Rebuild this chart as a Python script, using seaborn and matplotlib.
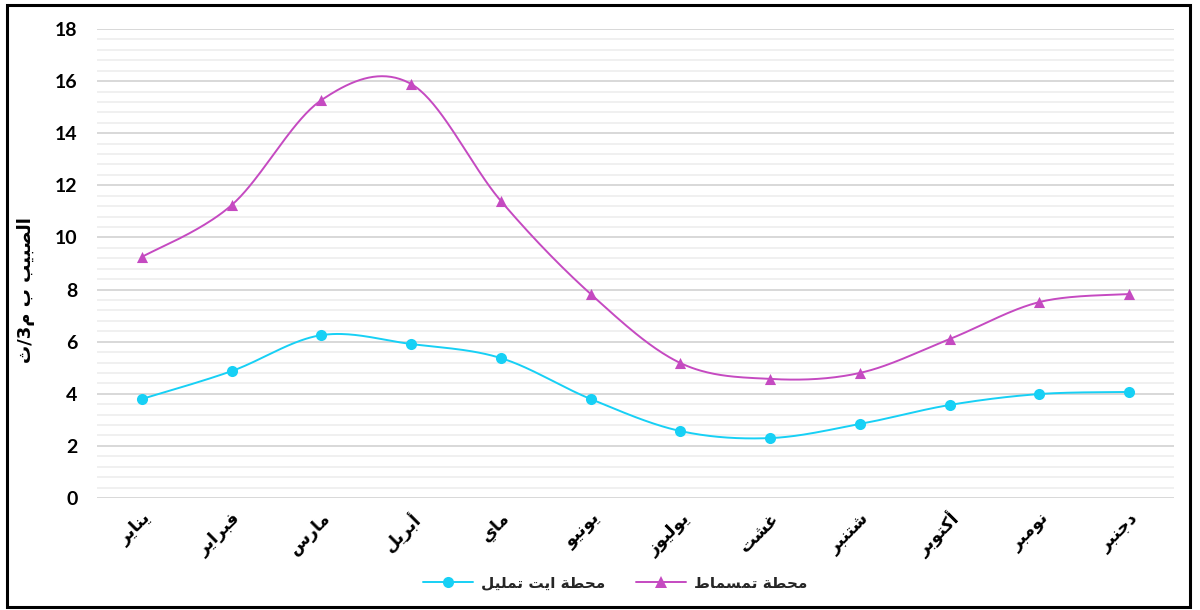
import numpy as np
import pandas as pd
import matplotlib
matplotlib.use("Agg")
import matplotlib.pyplot as plt
from matplotlib.patches import Rectangle
from matplotlib.lines import Line2D
from matplotlib.ticker import MultipleLocator
import seaborn as sns

# ---- data -------------------------------------------------------------
months = ["يناير", "فبراير", "مارس", "أبريل", "ماي", "يونيو",
          "يوليوز", "غشت", "شتنبر", "أكتوبر", "نومبر", "دجنبر"]
ait_tamlil = [3.80, 4.87, 6.25, 5.91, 5.37, 3.80, 2.57, 2.30, 2.84, 3.57, 3.99, 4.07]
tamsmat = [9.25, 11.24, 15.27, 15.89, 11.40, 7.83, 5.18, 4.57, 4.80, 6.10, 7.52, 7.83]
series_names = ["محطة ايت تمليل", "محطة تمسماط"]
y_label_words = ["الصبيب", "ب"]   # followed by the unit م3/ث
y_ticks = [0, 2, 4, 6, 8, 10, 12, 14, 16, 18]

# ---- minimal Arabic shaping (presentation forms) -----------------------
# letter: (isolated, final, initial, medial); None => does not join forward
FORMS = {
    "ا": (0xFE8D, 0xFE8E, None, None), "أ": (0xFE83, 0xFE84, None, None),
    "ب": (0xFE8F, 0xFE90, 0xFE91, 0xFE92), "ة": (0xFE93, 0xFE94, None, None),
    "ت": (0xFE95, 0xFE96, 0xFE97, 0xFE98), "ث": (0xFE99, 0xFE9A, 0xFE9B, 0xFE9C),
    "ج": (0xFE9D, 0xFE9E, 0xFE9F, 0xFEA0), "ح": (0xFEA1, 0xFEA2, 0xFEA3, 0xFEA4),
    "د": (0xFEA9, 0xFEAA, None, None), "ر": (0xFEAD, 0xFEAE, None, None),
    "ز": (0xFEAF, 0xFEB0, None, None), "س": (0xFEB1, 0xFEB2, 0xFEB3, 0xFEB4),
    "ش": (0xFEB5, 0xFEB6, 0xFEB7, 0xFEB8), "ص": (0xFEB9, 0xFEBA, 0xFEBB, 0xFEBC),
    "ط": (0xFEC1, 0xFEC2, 0xFEC3, 0xFEC4), "غ": (0xFECD, 0xFECE, 0xFECF, 0xFED0),
    "ف": (0xFED1, 0xFED2, 0xFED3, 0xFED4), "ك": (0xFED9, 0xFEDA, 0xFEDB, 0xFEDC),
    "ل": (0xFEDD, 0xFEDE, 0xFEDF, 0xFEE0), "م": (0xFEE1, 0xFEE2, 0xFEE3, 0xFEE4),
    "ن": (0xFEE5, 0xFEE6, 0xFEE7, 0xFEE8), "و": (0xFEED, 0xFEEE, None, None),
    "ي": (0xFEF1, 0xFEF2, 0xFEF3, 0xFEF4),
}


def shape_word(word):
    chars = list(word)
    out = []
    for i, c in enumerate(chars):
        f = FORMS.get(c)
        if f is None:
            out.append(c)
            continue
        prev = FORMS.get(chars[i - 1]) if i > 0 else None
        nxt = FORMS.get(chars[i + 1]) if i + 1 < len(chars) else None
        join_prev = prev is not None and prev[2] is not None
        join_next = nxt is not None and f[2] is not None
        if join_prev and join_next:
            code = f[3]
        elif join_prev:
            code = f[1]
        elif join_next:
            code = f[2]
        else:
            code = f[0]
        out.append(chr(code))
    return "".join(reversed(out))


def shape_text(text):
    return " ".join(shape_word(w) for w in reversed(text.split(" ")))


# ---- smoothed curve (cubic Bezier through the points, Catmull-Rom tangents)
def smooth(xs, ys, n=40):
    xs = np.asarray(xs, float)
    ys = np.asarray(ys, float)
    px, py = [], []
    for i in range(len(xs) - 1):
        x0, y0 = xs[max(i - 1, 0)], ys[max(i - 1, 0)]
        x1, y1 = xs[i], ys[i]
        x2, y2 = xs[i + 1], ys[i + 1]
        x3, y3 = xs[min(i + 2, len(xs) - 1)], ys[min(i + 2, len(xs) - 1)]
        c1 = (x1 + (x2 - x0) / 6, y1 + (y2 - y0) / 6)
        c2 = (x2 - (x3 - x1) / 6, y2 - (y3 - y1) / 6)
        t = np.linspace(0, 1, n, endpoint=(i == len(xs) - 2))
        b0, b1, b2, b3 = (1 - t) ** 3, 3 * (1 - t) ** 2 * t, 3 * (1 - t) * t ** 2, t ** 3
        px.append(b0 * x1 + b1 * c1[0] + b2 * c2[0] + b3 * x2)
        py.append(b0 * y1 + b1 * c1[1] + b2 * c2[1] + b3 * y2)
    return np.concatenate(px), np.concatenate(py)


# ---- figure ----------------------------------------------------------
sns.set_theme(style="white")
plt.rcParams["font.family"] = ["DejaVu Sans"]

fig = plt.figure(figsize=(12, 6.1), dpi=100)
ax = fig.add_axes([97 / 1200, 1 - 498 / 610, (1174 - 97) / 1200, (498 - 29) / 610])

cyan = "#17d0f5"
magenta = "#c54ac1"
x = np.arange(len(months))

for vals, color, marker, ms in [(ait_tamlil, cyan, "o", 8), (tamsmat, magenta, "^", 8)]:
    sx, sy = smooth(x, vals)
    sns.lineplot(x=sx, y=sy, ax=ax, color=color, linewidth=1.4, sort=False, zorder=3)
    sns.scatterplot(x=x, y=vals, ax=ax, color=color, marker=marker, s=ms ** 2,
                    edgecolor=color, linewidth=0, zorder=4)

ax.set_xlim(-0.5, len(months) - 0.5)
ax.set_ylim(0, 18)
ax.yaxis.set_major_locator(MultipleLocator(2))
ax.yaxis.set_minor_locator(MultipleLocator(0.4))
ax.set_yticks(y_ticks)
ax.grid(axis="y", which="major", color="#d6d6d6", linewidth=1.3)
ax.grid(axis="y", which="minor", color="#ececec", linewidth=1.1)
ax.set_axisbelow(True)
for s in ax.spines.values():
    s.set_visible(False)

ax.set_yticklabels([str(v) for v in y_ticks], fontsize=14, fontweight="bold",
                   family=["Lato", "DejaVu Sans"])
ax.tick_params(axis="y", length=0, pad=14, colors="black")
ax.tick_params(axis="x", length=0, pad=8)
ax.set_xticks(x)
ax.set_xticklabels([shape_word(m) for m in months], rotation=45, ha="right",
                   rotation_mode="anchor", fontsize=12.5, fontweight="bold", color="black")

unit = shape_word("ث") + "/3" + shape_word("م")
ylab = unit + " " + shape_text(" ".join(y_label_words))
ax.set_ylabel(ylab, fontsize=13, fontweight="bold", color="black")
ax.yaxis.set_label_coords(-62 / 1077, (498 - 290) / 469)

handles = [
    Line2D([0], [0], color=cyan, marker="o", markersize=8, markeredgewidth=0, linewidth=1.4),
    Line2D([0], [0], color=magenta, marker="^", markersize=8, markeredgewidth=0, linewidth=1.4),
]
fig.legend(handles, [shape_text(n) for n in series_names], loc="center",
           bbox_to_anchor=(615 / 1200, 1 - 583 / 610), ncol=2, frameon=False,
           prop={"weight": "bold", "size": 11}, handlelength=3.3, columnspacing=2.0,
           handletextpad=0.5)

# outer frame
fig.patches.append(Rectangle((7 / 1200, 3 / 610), 1183 / 1200, 602 / 610, transform=fig.transFigure,
                             fill=False, edgecolor="black", linewidth=2.2))

fig.savefig("out.png", dpi=100, facecolor="white")
